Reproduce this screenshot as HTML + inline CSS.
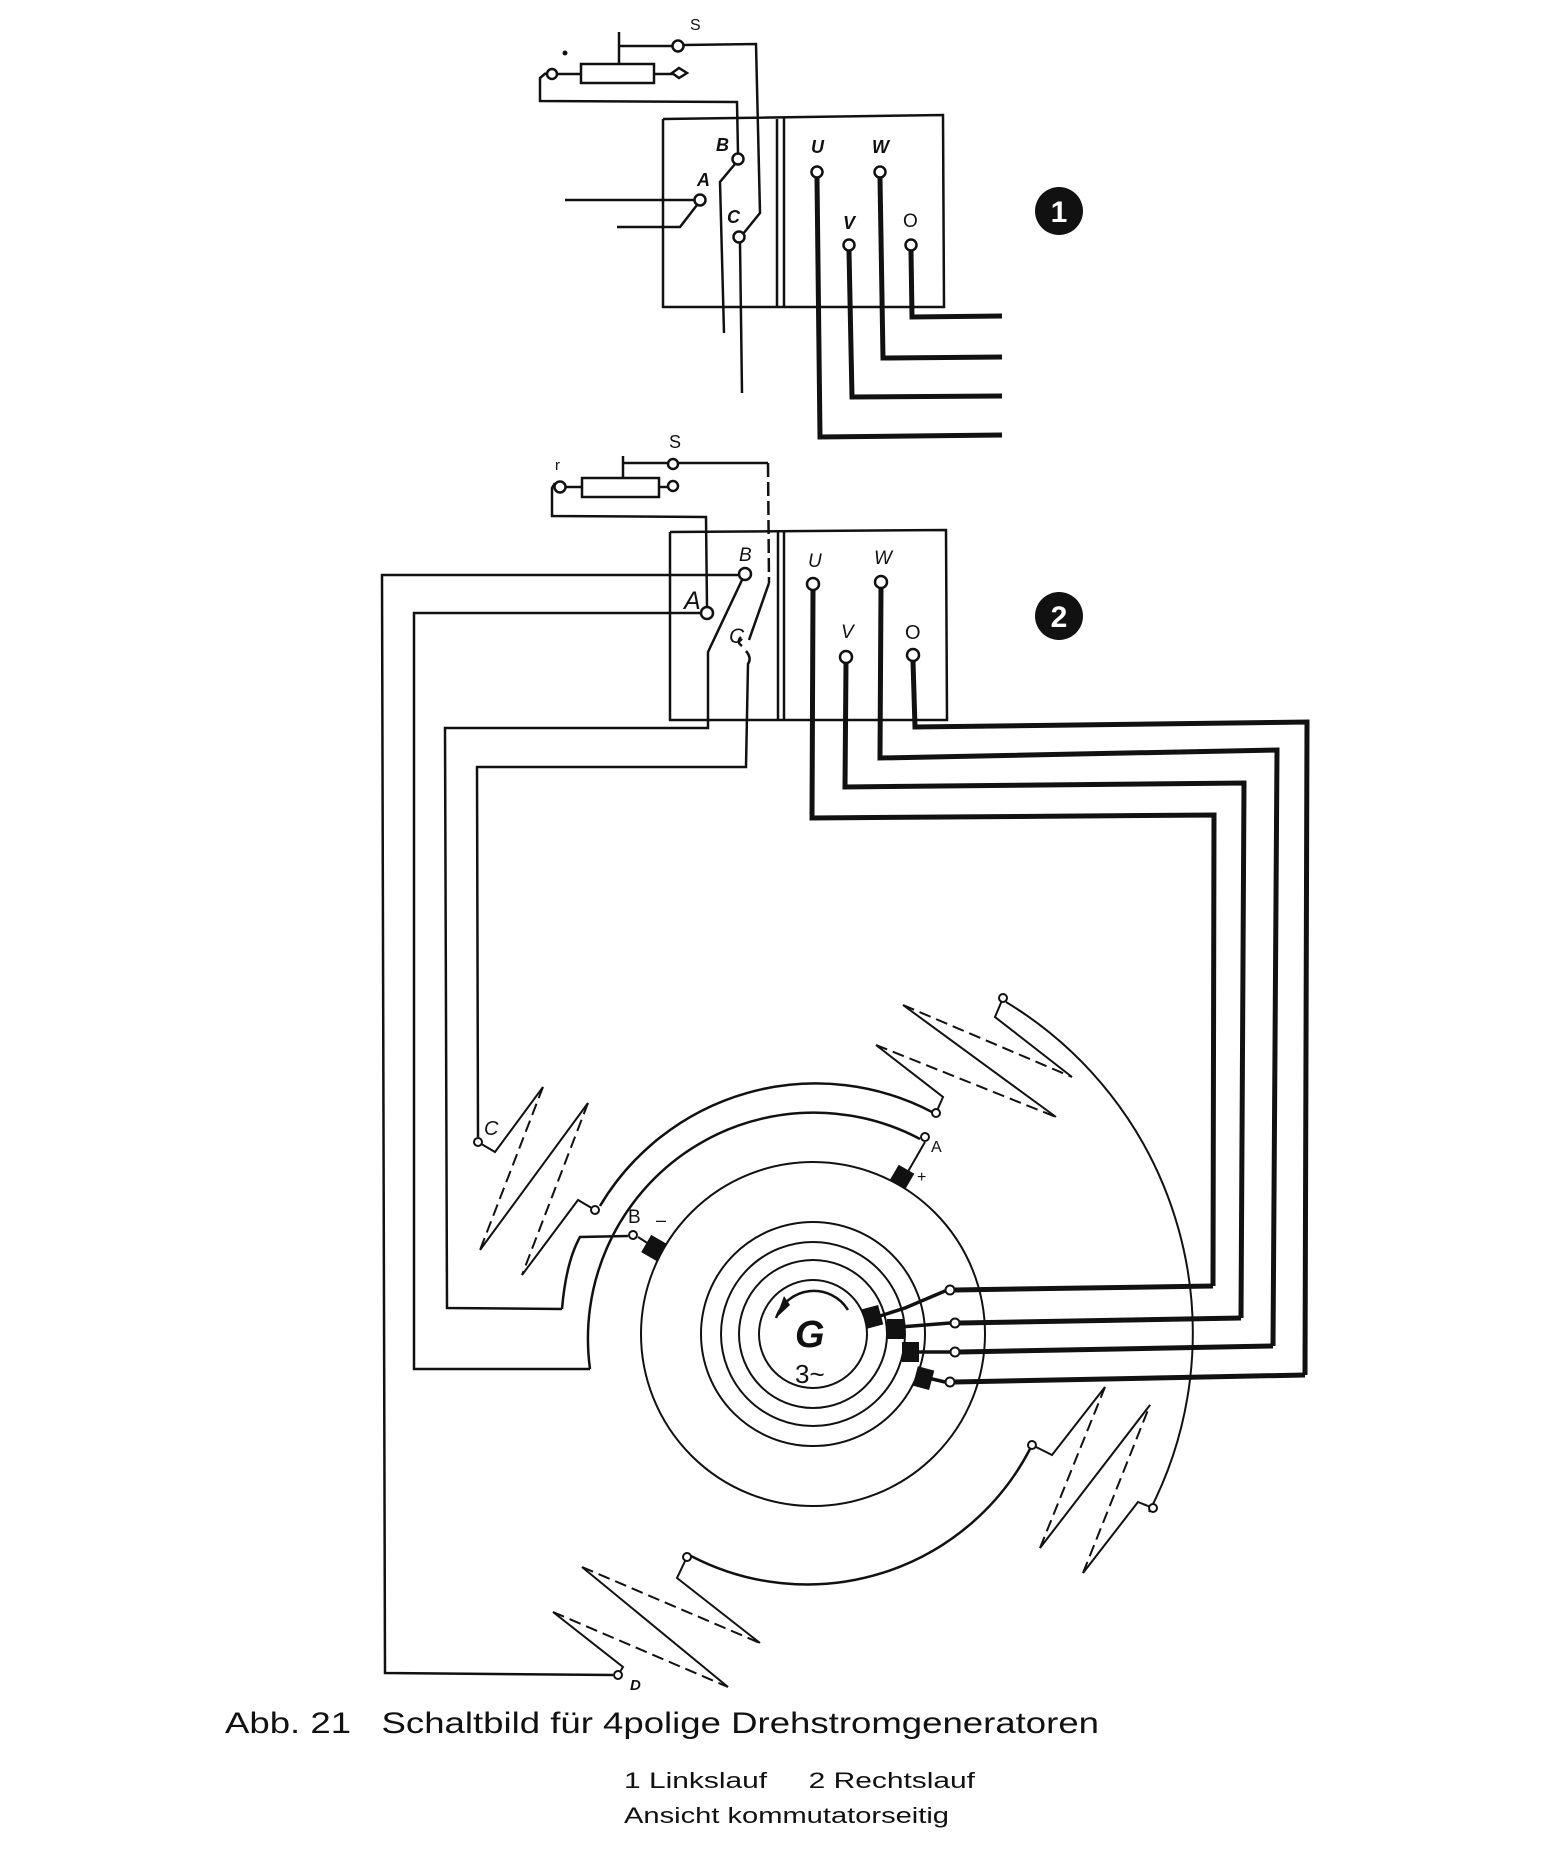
<!DOCTYPE html>
<html><head><meta charset="utf-8"><style>
html,body{margin:0;padding:0;background:#fff;}
svg{display:block;}
text{font-family:"Liberation Sans",sans-serif;fill:#111;}
</style></head><body>
<svg width="1564" height="1859" viewBox="0 0 1564 1859" xmlns="http://www.w3.org/2000/svg">
<g fill="none" stroke="#111" stroke-width="2.5" stroke-linejoin="miter">
<rect x="581" y="64" width="73" height="19"/>
<line x1="619" y1="32" x2="619" y2="64"/>
<polyline points="619,46 672,46"/>
<polyline points="684,45 756,44 760,213 743,234"/>
<polyline points="556,74 581,74"/>
<polyline points="654,74 674,74"/>
<polyline points="546,73 540,78 540,101 737,102 738,153"/>
<polyline points="663,119 943,115 944,307 663,307 663,119"/>
<line x1="777" y1="119" x2="777" y2="307"/><line x1="784" y1="118" x2="784" y2="307"/>
<polyline points="735,164 720,182 724,333"/>
<line x1="565" y1="200" x2="694" y2="200"/>
<polyline points="617,227 680,227 697,205"/>
<line x1="740" y1="243" x2="742" y2="393"/>
</g>
<g fill="#fff" stroke="#111" stroke-width="2.5">
<circle cx="552" cy="74" r="5"/><circle cx="678" cy="46" r="5.5"/>
<path d="M672,73 L679,68 L687,73 L679,78 Z"/>
<circle cx="738" cy="159" r="5.5"/><circle cx="700" cy="200" r="5.5"/><circle cx="739" cy="237" r="5.5"/>
</g>
<g fill="none" stroke="#111" stroke-width="5">
<polyline points="817,178 820,437 1002,435"/>
<polyline points="880,178 883,358 1002,357"/>
<polyline points="849,251 852,397 1002,396"/>
<polyline points="911,251 912,317 1002,316"/>
</g>
<g fill="#fff" stroke="#111" stroke-width="2.5">
<circle cx="817" cy="172" r="5.5"/><circle cx="880" cy="172" r="5.5"/><circle cx="849" cy="245" r="5.5"/><circle cx="911" cy="245" r="5.5"/>
</g>
<circle cx="565" cy="53" r="2.5" fill="#111"/>
<text x="690" y="30" font-size="16">S</text>
<g font-size="18" font-style="italic" font-weight="bold">
<text x="716" y="151">B</text><text x="697" y="186">A</text><text x="727" y="223">C</text>
<text x="811" y="153">U</text><text x="872" y="153">W</text><text x="843" y="229">V</text>
</g>
<text x="903" y="227" font-size="19">O</text>
<circle cx="1059" cy="211" r="24" fill="#111"/>
<text x="1059" y="222" font-size="30" font-weight="bold" text-anchor="middle" style="fill:#fff">1</text>

<g fill="none" stroke="#111" stroke-width="2.5">
<rect x="582" y="478" width="77" height="19"/>
<line x1="623" y1="456" x2="623" y2="478"/>
<line x1="623" y1="463" x2="668" y2="463"/>
<line x1="566" y1="487" x2="582" y2="487"/><line x1="659" y1="487" x2="668" y2="487"/>
<polyline points="678,463 768,463"/>
<line x1="768" y1="463" x2="769" y2="583" stroke-dasharray="14,5"/>
<polyline points="769,583 749,640"/>
<polyline points="555,483 552,488 552,516 706,517 707,607"/>
<polyline points="670,532 946,530 947,720 670,720 670,532"/>
<line x1="778" y1="532" x2="778" y2="720"/><line x1="784" y1="532" x2="784" y2="720"/>
<polyline points="740,575 382,575 385,1673 613,1675"/>
<polyline points="701,613 414,613 414,1369 590,1369"/>
<polyline points="742,580 708,652 708,728 445,728 447,1308 562,1309"/>
<path d="M562,1309 Q566,1262 580,1237 L628,1236"/>
<path d="M746,651 Q752,658 748,664 L746,767 477,767 478,1137"/>
<path d="M742,646 Q736,642 741,637"/>
</g>
<g fill="#fff" stroke="#111" stroke-width="2.5">
<circle cx="560" cy="487" r="5.5"/><circle cx="673" cy="464" r="5"/><circle cx="673" cy="486" r="5"/>
<circle cx="745" cy="574" r="6"/><circle cx="707" cy="613" r="6"/>
</g>
<g fill="none" stroke="#111" stroke-width="5">
<polyline points="813,590 812,818 1214,815 1213,1286"/>
<polyline points="846,663 845,787 1244,783 1241,1318"/>
<polyline points="881,588 880,758 1277,750 1273,1346"/>
<polyline points="913,661 915,727 1307,722 1305,1375"/>
<line x1="955" y1="1290" x2="1213" y2="1286"/>
<line x1="960" y1="1323" x2="1241" y2="1318"/>
<line x1="960" y1="1352" x2="1273" y2="1346"/>
<line x1="955" y1="1382" x2="1305" y2="1375"/>
</g>
<g fill="#fff" stroke="#111" stroke-width="2.5">
<circle cx="813" cy="584" r="6"/><circle cx="881" cy="582" r="6"/><circle cx="846" cy="657" r="6"/><circle cx="913" cy="655" r="6"/>
</g>
<text x="555" y="470" font-size="15">r</text>
<text x="669" y="448" font-size="18">S</text>
<g font-size="19" font-style="italic">
<text x="739" y="561">B</text><text x="808" y="567">U</text><text x="874" y="564">W</text><text x="841" y="638">V</text>
</g>
<text x="684" y="609" font-size="25" font-style="italic">A</text>
<text x="729" y="643" font-size="21" font-style="italic">C</text>
<text x="905" y="639" font-size="20">O</text>
<circle cx="1059" cy="616" r="24" fill="#111"/>
<text x="1059" y="627" font-size="30" font-weight="bold" text-anchor="middle" style="fill:#fff">2</text>

<g fill="none" stroke="#111" stroke-width="2">
<circle cx="813" cy="1334" r="172"/>
<circle cx="813" cy="1334" r="112"/>
<circle cx="813" cy="1334" r="92"/>
<circle cx="813" cy="1334" r="74"/>
<circle cx="813" cy="1334" r="54"/>
<path d="M848,1310 A40,40 0 0 0 776,1318" stroke-width="2.5"/>
<path d="M600,1206 A251,251 0 0 1 932,1112" stroke-width="2.5"/>
<path d="M1030,1449 A251,251 0 0 1 691,1556" stroke-width="2.5"/>
<path d="M920,1139 A226,226 0 0 0 590,1369" stroke-width="2.5"/>
<path d="M1006,1002 A387,387 0 0 1 1149,1512"/>
<line x1="925" y1="1142" x2="906" y2="1175"/>
<line x1="638" y1="1237" x2="652" y2="1246"/>
<polyline points="880,1316 905,1308 945,1291" stroke-width="3.5"/>
<line x1="900" y1="1327" x2="950" y2="1323" stroke-width="3.5"/>
<line x1="915" y1="1352" x2="950" y2="1352" stroke-width="3.5"/>
<line x1="928" y1="1378" x2="945" y2="1382" stroke-width="3.5"/>
</g>
<path d="M776,1318 L784,1296 L790,1305 Z" fill="#111"/>
<g fill="#111">
<rect x="645" y="1238" width="18" height="20" transform="rotate(30 654 1248)"/>
<rect x="893" y="1168" width="18" height="18" transform="rotate(30 902 1177)"/>
<rect x="864" y="1307" width="17" height="20" transform="rotate(-15 872 1317)"/>
<rect x="887" y="1319" width="17" height="20"/>
<rect x="902" y="1342" width="17" height="20"/>
<rect x="915" y="1368" width="17" height="20" transform="rotate(15 923 1378)"/>
</g>
<g fill="#fff" stroke="#111" stroke-width="2">
<circle cx="925" cy="1137" r="4"/><circle cx="633" cy="1235" r="4"/>
<circle cx="950" cy="1290" r="4.5"/><circle cx="955" cy="1323" r="4.5"/><circle cx="955" cy="1352" r="4.5"/><circle cx="950" cy="1382" r="4.5"/>
</g>
<text x="795" y="1347" font-size="38" font-style="italic" font-weight="bold">G</text>
<text x="795" y="1383" font-size="26">3~</text>
<text x="931" y="1152" font-size="16">A</text>
<text x="917" y="1182" font-size="16">+</text>
<text x="628" y="1223" font-size="19">B</text>
<text x="656" y="1226" font-size="18">–</text>

<g fill="none" stroke="#111" stroke-width="2">
<polyline points="478,1142 495,1152 543,1087"/>
<polyline points="480,1250 588,1103"/>
<polyline points="522,1275 578,1200 595,1210"/>
<line x1="543" y1="1087" x2="480" y2="1250" stroke-dasharray="12,6"/>
<line x1="588" y1="1103" x2="522" y2="1275" stroke-dasharray="12,6"/>
<polyline points="1003,998 995,1017 1072,1077"/>
<line x1="903" y1="1005" x2="1072" y2="1077" stroke-dasharray="12,6"/>
<line x1="903" y1="1005" x2="1056" y2="1117"/>
<line x1="876" y1="1045" x2="1056" y2="1117" stroke-dasharray="12,6"/>
<polyline points="876,1045 943,1097 936,1113"/>
<polyline points="1153,1508 1138,1502 1083,1573"/>
<line x1="1083" y1="1573" x2="1150" y2="1405" stroke-dasharray="12,6"/>
<line x1="1150" y1="1405" x2="1040" y2="1548"/>
<line x1="1040" y1="1548" x2="1105" y2="1387" stroke-dasharray="12,6"/>
<polyline points="1105,1387 1052,1455 1032,1445"/>
<polyline points="618,1675 623,1667 553,1612"/>
<line x1="553" y1="1612" x2="728" y2="1687" stroke-dasharray="12,6"/>
<line x1="582" y1="1567" x2="728" y2="1687"/>
<line x1="582" y1="1567" x2="760" y2="1643" stroke-dasharray="12,6"/>
<polyline points="760,1643 677,1578 687,1557"/>
</g>
<g fill="#fff" stroke="#111" stroke-width="2">
<circle cx="478" cy="1142" r="4"/><circle cx="595" cy="1210" r="4"/>
<circle cx="1003" cy="998" r="4"/><circle cx="936" cy="1113" r="4"/>
<circle cx="1153" cy="1508" r="4"/><circle cx="1032" cy="1445" r="4"/>
<circle cx="618" cy="1675" r="4"/><circle cx="687" cy="1557" r="4"/>
</g>
<text x="484" y="1135" font-size="20" font-style="italic">C</text>
<text x="630" y="1690" font-size="15" font-style="italic" font-weight="bold">D</text>

<text x="225" y="1733" font-size="30" textLength="874" lengthAdjust="spacingAndGlyphs" xml:space="preserve">Abb. 21   Schaltbild für 4polige Drehstromgeneratoren</text>
<text x="624" y="1788" font-size="22" textLength="351" lengthAdjust="spacingAndGlyphs" xml:space="preserve">1 Linkslauf     2 Rechtslauf</text>
<text x="624" y="1823" font-size="22" textLength="325" lengthAdjust="spacingAndGlyphs">Ansicht kommutatorseitig</text>
</svg>
</body></html>
